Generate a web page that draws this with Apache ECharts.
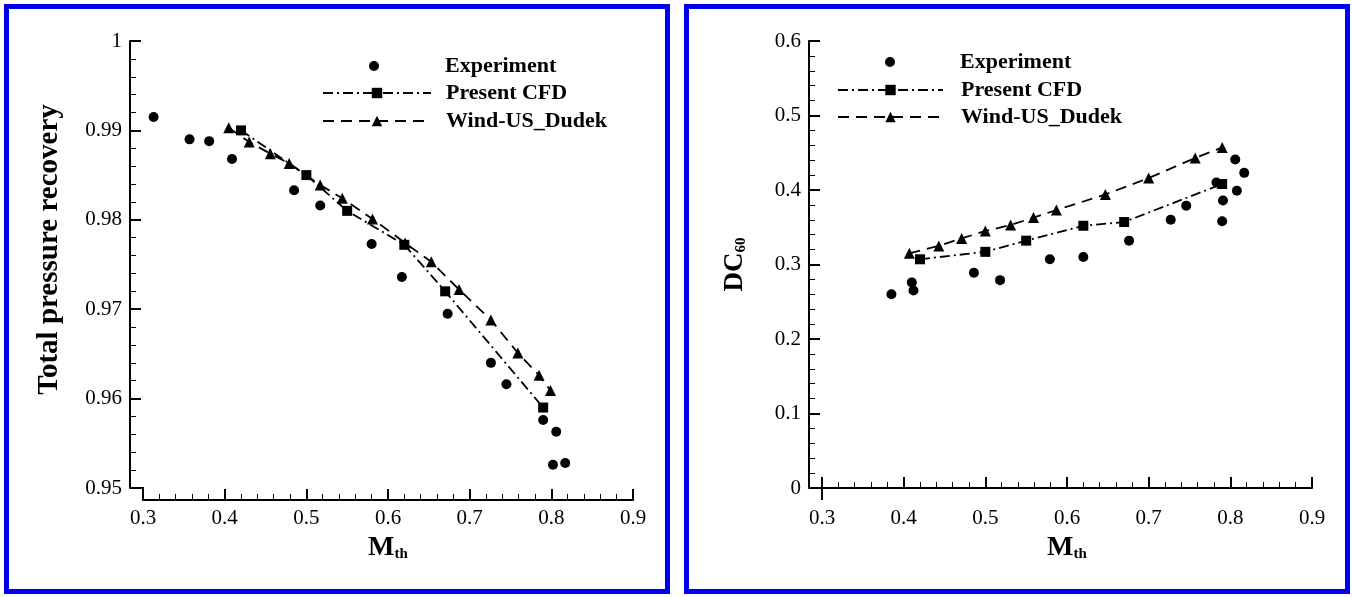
<!DOCTYPE html>
<html>
<head>
<meta charset="utf-8">
<title>Total pressure recovery and DC60</title>
<script src="https://cdn.jsdelivr.net/npm/echarts@6/dist/echarts.min.js"></script>
<style>
  html, body { margin: 0; padding: 0; background: #fff; }
  #main { width: 1352px; height: 597px; }
</style>
</head>
<body>
<div id="main"></div>
<script>
// ---- tick labels ----
var machTicks = [0.3, 0.4, 0.5, 0.6, 0.7, 0.8, 0.9];
var recoveryTicks = [0.95, 0.96, 0.97, 0.98, 0.99, 1];
var dcTicks = [0, 0.1, 0.2, 0.3, 0.4, 0.5, 0.6];

// ---- left: total pressure recovery ----
var expMachL = [0.313, 0.357, 0.381, 0.409, 0.485, 0.517, 0.580, 0.617, 0.673, 0.726, 0.745, 0.790, 0.806, 0.802, 0.817];
var expRecL  = [0.9915, 0.9890, 0.9888, 0.9868, 0.9833, 0.9816, 0.9773, 0.9736, 0.9695, 0.9640, 0.9616, 0.9576, 0.9563, 0.9526, 0.9528];
var cfdMachL = [0.42, 0.50, 0.55, 0.62, 0.67, 0.79];
var cfdRecL  = [0.9900, 0.9850, 0.9810, 0.9772, 0.9720, 0.9590];
var windMachL = [0.405, 0.430, 0.456, 0.479, 0.517, 0.544, 0.581, 0.621, 0.653, 0.687, 0.726, 0.759, 0.785, 0.799];
var windRecL  = [0.9903, 0.9887, 0.9874, 0.9863, 0.9839, 0.9824, 0.9801, 0.9774, 0.9753, 0.9722, 0.9688, 0.9651, 0.9626, 0.9609];

// ---- right: DC60 ----
var expMachR = [0.385, 0.410, 0.412, 0.486, 0.518, 0.579, 0.620, 0.676, 0.727, 0.746, 0.790, 0.791, 0.783, 0.808, 0.806, 0.817];
var expDcR   = [0.260, 0.276, 0.265, 0.289, 0.279, 0.307, 0.310, 0.332, 0.360, 0.379, 0.358, 0.386, 0.410, 0.399, 0.441, 0.423];
var cfdMachR = [0.42, 0.50, 0.55, 0.62, 0.67, 0.79];
var cfdDcR   = [0.307, 0.317, 0.332, 0.352, 0.357, 0.408];
var windMachR = [0.407, 0.443, 0.471, 0.500, 0.531, 0.559, 0.587, 0.647, 0.700, 0.757, 0.790];
var windDcR   = [0.315, 0.325, 0.335, 0.345, 0.353, 0.363, 0.373, 0.394, 0.416, 0.443, 0.457];

var serif = '"Liberation Serif", "Times New Roman", serif';

function zip(xs, ys) {
  return xs.map(function (x, i) { return [x, ys[i]]; });
}
function step(t) {
  return +(t[1] - t[0]).toFixed(4);
}

function makeX(grid) {
  return {
    type: 'value', gridIndex: grid,
    min: machTicks[0], max: machTicks[machTicks.length - 1], interval: step(machTicks),
    offset: 12,
    name: '{m|M}{s|th}', nameLocation: 'middle', nameGap: 29,
    nameTextStyle: {
      rich: {
        m: { fontFamily: serif, fontWeight: 'bold', fontSize: 28, color: '#000', lineHeight: 28 },
        s: { fontFamily: serif, fontWeight: 'bold', fontSize: 15, color: '#000', lineHeight: 8, verticalAlign: 'bottom' }
      }
    },
    axisLine: { lineStyle: { color: '#000', width: 2 } },
    axisTick: { inside: true, length: 11, lineStyle: { color: '#000', width: 2 } },
    minorTick: { show: true, splitNumber: 5, length: 6, lineStyle: { color: '#000', width: 1 } },
    splitLine: { show: false },
    axisLabel: { fontFamily: serif, fontSize: 21, color: '#000', margin: 8 }
  };
}

function makeY(grid, ticks, name, gap, size, shift) {
  return {
    type: 'value', gridIndex: grid,
    min: ticks[0], max: ticks[ticks.length - 1], interval: step(ticks),
    offset: 13,
    name: name, nameLocation: 'middle', nameRotate: 90, nameGap: gap,
    nameTextStyle: {
      fontFamily: serif, fontWeight: 'bold', fontSize: size, color: '#000',
      padding: [0, 0, 0, shift],
      rich: {
        a: { fontFamily: serif, fontWeight: 'bold', fontSize: 27, color: '#000', lineHeight: 28 },
        b: { fontFamily: serif, fontWeight: 'bold', fontSize: 15, color: '#000', lineHeight: 8, verticalAlign: 'bottom' }
      }
    },
    axisLine: { lineStyle: { color: '#000', width: 2 } },
    axisTick: { inside: true, length: 11, lineStyle: { color: '#000', width: 2 } },
    minorTick: { show: true, splitNumber: 5, length: 6, lineStyle: { color: '#000', width: 1 } },
    splitLine: { show: false },
    axisLabel: { fontFamily: serif, fontSize: 21, color: '#000', margin: 8 }
  };
}

function makeSeries(axis, exp, cfd, wind) {
  return [
    {
      type: 'scatter', name: 'Experiment', xAxisIndex: axis, yAxisIndex: axis,
      data: exp, symbol: 'circle', symbolSize: 10,
      itemStyle: { color: '#000', opacity: 1 }
    },
    {
      type: 'line', name: 'Present CFD', xAxisIndex: axis, yAxisIndex: axis,
      data: cfd, symbol: 'rect', symbolSize: 10, showSymbol: true,
      itemStyle: { color: '#000' },
      lineStyle: { color: '#000', width: 1.8, type: [10, 4, 2, 4] }
    },
    {
      type: 'line', name: 'Wind-US_Dudek', xAxisIndex: axis, yAxisIndex: axis,
      data: wind, symbol: 'triangle', symbolSize: 11, showSymbol: true,
      itemStyle: { color: '#000' },
      lineStyle: { color: '#000', width: 1.8, type: [11, 7] }
    }
  ];
}

function legendRow(item, left, top, width, iconH, pad) {
  return {
    data: [item], left: left, top: top, orient: 'vertical',
    itemWidth: width, itemHeight: iconH, selectedMode: false, padding: 0,
    textStyle: { fontFamily: serif, fontWeight: 'bold', fontSize: 22, color: '#000', lineHeight: 22, padding: [0, 0, 0, pad] }
  };
}
var expItem = { name: 'Experiment', icon: 'circle' };

var myChart = echarts.init(document.getElementById('main'));

var option = {
  animation: false,
  backgroundColor: '#fff',
  grid: [
    { left: 143, top: 41, width: 490, height: 447 },
    { left: 822, top: 41, width: 490, height: 447 }
  ],
  xAxis: [makeX(0), makeX(1)],
  yAxis: [
    makeY(0, recoveryTicks, 'Total pressure recovery', 66, 29, 30),
    makeY(1, dcTicks, '{a|DC}{b|60}', 60, 22, 0)
  ],
  legend: [
    legendRow(expItem, 369, 55, 10, 10, 61),
    legendRow('Present CFD', 322, 82, 108, 13, 10),
    legendRow('Wind-US_Dudek', 322, 110, 108, 13, 10),
    legendRow(expItem, 885, 51, 10, 10, 60),
    legendRow('Present CFD', 837, 79, 105, 13, 13),
    legendRow('Wind-US_Dudek', 837, 106, 105, 13, 13)
  ],
  series: makeSeries(0, zip(expMachL, expRecL), zip(cfdMachL, cfdRecL), zip(windMachL, windRecL))
    .concat(makeSeries(1, zip(expMachR, expDcR), zip(cfdMachR, cfdDcR), zip(windMachR, windDcR)))
};

myChart.setOption(option);

// blue frames and the little step where the offset axes meet
var corner0 = myChart.convertToPixel({ gridIndex: 0 }, [machTicks[0], recoveryTicks[0]]);
var corner1 = myChart.convertToPixel({ gridIndex: 1 }, [machTicks[0], dcTicks[0]]);
function stepLine(c) {
  return {
    type: 'polyline', silent: true,
    shape: { points: [[c[0] - 13, c[1]], [c[0], c[1]], [c[0], c[1] + 12]] },
    style: { stroke: '#000', lineWidth: 2, fill: null }
  };
}
myChart.setOption({
  graphic: [
    { type: 'rect', silent: true, shape: { x: 6.5, y: 6.5, width: 661, height: 585 }, style: { fill: null, stroke: '#0000f0', lineWidth: 5 } },
    { type: 'rect', silent: true, shape: { x: 686.5, y: 6.5, width: 661, height: 585 }, style: { fill: null, stroke: '#0000f0', lineWidth: 5 } },
    stepLine(corner0),
    stepLine(corner1)
  ]
});
</script>
</body>
</html>
